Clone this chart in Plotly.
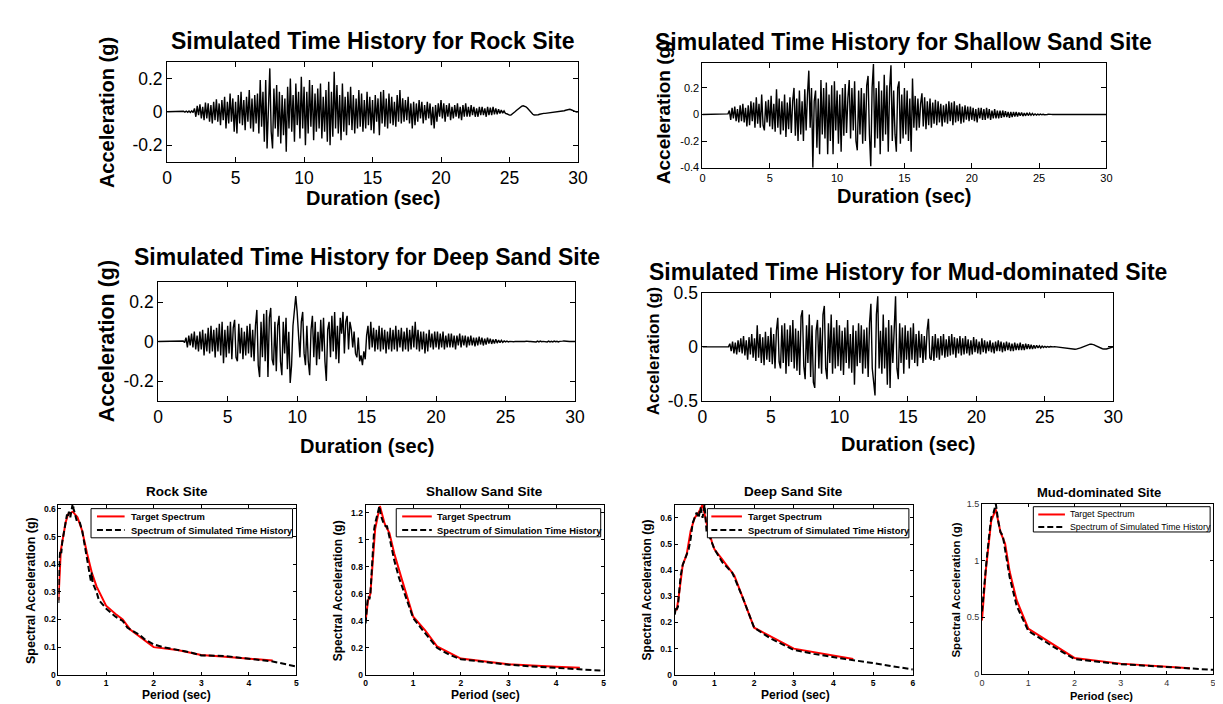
import plotly.graph_objects as go

W, H = 1223, 704
FONT = "Arial, Liberation Sans, Helvetica, sans-serif"
DT = 0.1  # sampling step of the digitised time histories (sec)

# ---------------- time histories (g), sampled every 0.1 s from 0 to 30 s ----------------
rock_acc = [
    0, 0, 0, 0, 0, 0, 0, 0, 0, 0, 0, 0,
    0.003, -0.002, 0.004, -0.003, 0.005, -0.004, 0.006, -0.005,
    0.02, -0.03, 0.035, -0.02, 0.045, -0.04, 0.03, -0.05, 0.055, -0.04,
    0.05, -0.06, 0.04, -0.07, 0.06, -0.05, 0.075, -0.06, 0.05, -0.08,
    0.07, -0.05, 0.09, -0.1, 0.06, -0.07, 0.11, -0.06, 0.08, -0.12,
    0.06, -0.13, 0.1, -0.07, 0.12, -0.08, 0.07, -0.11, 0.09, -0.06,
    0.13, -0.1, 0.08, -0.12, 0.1, -0.07, 0.11, -0.13, 0.19, -0.09,
    0.12, -0.18, 0.19, -0.22, 0.1, 0.26, -0.12, -0.22, 0.14, -0.1,
    0.16, -0.15, 0.12, -0.19, 0.1, -0.14, 0.08, -0.24, 0.15, -0.1,
    0.2, -0.12, 0.1, -0.18, 0.17, -0.08, 0.12, -0.16, 0.21, -0.1,
    0.15, -0.2, 0.12, -0.13, 0.19, -0.09, 0.16, -0.17, 0.11, -0.12,
    0.14, -0.1, 0.17, -0.16, 0.09, -0.12, 0.13, -0.18, 0.18, -0.2,
    0.12, -0.15, 0.24, -0.1, 0.16, -0.13, 0.1, -0.17, 0.17, -0.12,
    0.09, -0.14, 0.12, -0.08, 0.15, -0.11, 0.1, -0.13, 0.08, -0.1,
    0.13, -0.09, 0.11, -0.12, 0.07, -0.1, 0.12, -0.08, 0.09, -0.11,
    0.07, -0.13, 0.1, -0.06, 0.08, -0.14, 0.12, -0.07, 0.13, -0.09,
    0.08, -0.1, 0.11, -0.07, 0.09, -0.08, 0.06, -0.09, 0.1, -0.06,
    0.13, -0.07, 0.08, -0.06, 0.07, -0.05, 0.09, -0.07, 0.05, -0.1,
    0.06, -0.08, 0.05, -0.06, 0.07, -0.04, 0.06, -0.07, 0.04, -0.05,
    0.06, -0.04, 0.05, -0.08, 0.03, -0.1, 0.04, -0.06, 0.05, -0.03,
    0.07, -0.04, 0.05, -0.06, 0.04, -0.03, 0.05, -0.05, 0.03, -0.04,
    0.04, -0.03, 0.05, -0.04, 0.03, -0.05, 0.04, -0.03, 0.05, -0.03,
    0.03, -0.03, 0.04, -0.02, 0.03, -0.03, 0.02, -0.03, 0.03, -0.02,
    0.03, -0.02, 0.02, -0.03, 0.03, -0.02, 0.025, -0.02, 0.03, -0.015,
    0.02, -0.015, 0.015, -0.01, 0.01, -0.008, 0.005, -0.01, -0.012, -0.018,
    -0.02, -0.02, -0.015, -0.008, 0.0, 0.008, 0.016, 0.024, 0.03, 0.034,
    0.036, 0.035, 0.03, 0.022, 0.012, 0.002, -0.008, -0.015, -0.019, -0.02,
    -0.02, -0.018, -0.015, -0.012, -0.011, -0.01, -0.01, -0.009, -0.008, -0.008,
    -0.007, -0.006, -0.006, -0.005, -0.004, -0.002, -0.002, 0.0, 0.002, 0.004,
    0.006, 0.009, 0.012, 0.015, 0.015, 0.012, 0.008, 0.003, 0.0, -0.002,
    0.0]

shallow_acc = [
    0, 0, 0, 0, 0, 0, 0, 0, 0, 0, 0, 0, 0, 0, 0, 0, 0, 0, 0,
    0.005,
    0.03, -0.04, 0.05, -0.03, 0.06, -0.05, 0.04, -0.06, 0.07, -0.05,
    0.08, -0.06, 0.05, -0.09, 0.07, -0.08, 0.1, -0.05, 0.09, -0.1,
    0.13, -0.07, 0.08, -0.1, 0.15, -0.08, -0.12, 0.1, -0.06, 0.11,
    -0.09, 0.14, -0.11, 0.08, -0.13, 0.19, -0.1, 0.12, -0.15, 0.1,
    -0.12, 0.15, -0.17, 0.09, -0.11, 0.13, -0.14, 0.1, 0.2, -0.16,
    0.12, -0.2, 0.18, -0.15, 0.1, -0.2, 0.19, -0.12, 0.15, 0.33,
    -0.1, 0.2, -0.4, 0.1, 0.18, -0.25, 0.12, -0.3, 0.26, -0.15,
    0.2, -0.18, 0.24, -0.3, 0.15, -0.2, 0.22, -0.3, 0.25, -0.12,
    0.18, -0.22, 0.15, -0.28, 0.2, -0.16, 0.23, -0.14, 0.12, 0.26,
    -0.18, 0.2, -0.12, 0.25, -0.2, -0.27, 0.18, -0.15, 0.2, -0.22,
    0.16, -0.2, 0.22, 0.29, -0.15, -0.39, 0.2, 0.38, -0.25, 0.2,
    -0.18, 0.25, -0.3, 0.18, -0.2, 0.3, -0.15, 0.22, -0.28, 0.2,
    0.37, -0.2, 0.18, -0.15, -0.28, 0.2, 0.25, -0.22, 0.15, -0.18,
    0.2, -0.15, 0.18, -0.2, 0.12, -0.28, 0.27, -0.1, 0.14, -0.12,
    0.12, -0.1, 0.08, 0.16, -0.09, 0.13, -0.11, 0.1, -0.08, 0.12,
    -0.1, 0.09, -0.07, 0.11, -0.08, 0.1, -0.06, 0.08, -0.09, 0.07,
    -0.06, 0.08, -0.07, 0.1, -0.05, 0.09, -0.08, 0.1, -0.06, 0.07,
    -0.05, 0.08, -0.07, 0.06, -0.06, 0.07, -0.04, 0.06, -0.05, 0.06,
    -0.04, 0.05, -0.05, 0.04, -0.06, 0.05, -0.03, 0.05, -0.04, 0.04,
    -0.04, 0.05, -0.03, 0.04, -0.04, 0.03, -0.03, 0.04, -0.03, 0.03,
    -0.03, 0.03, -0.025, 0.03, -0.02, 0.025, -0.02, 0.02, -0.025, 0.02,
    -0.02, 0.02, -0.015, 0.02, -0.015, 0.015, -0.01, 0.015, -0.012, 0.01,
    -0.01, 0.012, -0.008, 0.01, -0.006, 0.008, -0.005, 0.005, -0.004, 0.003,
    -0.003, 0.003, -0.002, 0.002, -0.002, 0.002, 0, 0.002, -0.001, 0.001,
    0, 0.002, -0.001, 0.001, 0, 0, 0.001, -0.001, 0, 0,
    0, 0.001, -0.002, 0.001, 0, 0, 0, 0, 0, 0,
    0, 0, 0, 0, 0, 0, 0, 0, 0, 0,
    0, 0, 0, 0, 0, 0, 0, 0, 0, 0,
    0]

deep_acc = [
    0, 0, 0, 0, 0, 0, 0, 0, 0, 0, 0, 0, 0, 0, 0, 0, 0, 0,
    0.003, -0.005,
    0.02, -0.03, 0.03, -0.02, 0.04, -0.03, 0.05, -0.04, 0.03, -0.05,
    0.05, -0.04, 0.06, -0.07, 0.04, -0.05, 0.07, -0.06, 0.08, -0.05,
    0.06, -0.08, 0.07, -0.05, 0.09, -0.07, 0.1, -0.11, 0.06, -0.08,
    0.08, -0.06, 0.1, -0.09, 0.07, 0.11, -0.08, -0.1, 0.09, -0.06,
    0.07, -0.09, 0.05, -0.07, 0.08, -0.06, 0.09, -0.08, 0.06, -0.1,
    0.08, 0.16, -0.12, -0.18, 0.1, -0.08, 0.14, -0.1, 0.16, -0.18,
    0.12, 0.17, -0.09, -0.12, 0.1, -0.15, 0.08, 0.13, -0.1, -0.17,
    0.1, -0.06, 0.12, -0.14, 0.05, -0.21, -0.12, 0.08, 0.18, 0.23,
    0.15, 0.05, -0.08, 0.1, 0.15, -0.06, -0.12, 0.08, -0.1, -0.17,
    0.06, 0.13, -0.08, 0.1, -0.12, 0.05, -0.09, 0.11, -0.05, 0.12,
    -0.1, -0.2, 0.06, 0.1, -0.08, 0.13, -0.05, 0.15, -0.09, 0.08,
    -0.11, 0.12, 0.04, 0.15, -0.06, 0.1, 0.13, -0.04, 0.1, 0.06,
    -0.03, 0.05, -0.06, -0.08, 0.02, -0.1, -0.07, -0.12, -0.05, -0.09,
    0.03, 0.08, -0.04, 0.1, -0.03, 0.07, -0.05, 0.06, -0.04, 0.08,
    -0.05, 0.07, -0.04, 0.06, -0.06, 0.05, -0.04, 0.07, -0.05, 0.06,
    -0.04, 0.08, -0.05, 0.06, -0.03, 0.07, -0.05, 0.05, -0.04, 0.07,
    -0.05, 0.06, -0.04, 0.08, -0.03, 0.1, -0.04, 0.06, -0.05, 0.05,
    -0.04, 0.05, -0.06, 0.04, -0.05, 0.06, -0.03, 0.04, -0.04, 0.05,
    -0.03, 0.05, -0.04, 0.04, -0.03, 0.05, -0.04, 0.03, -0.03, 0.04,
    -0.03, 0.04, -0.03, 0.03, -0.04, 0.03, -0.02, 0.04, -0.03, 0.03,
    -0.02, 0.03, -0.03, 0.025, -0.02, 0.03, -0.02, 0.02, -0.025, 0.02,
    -0.02, 0.025, -0.015, 0.02, -0.02, 0.015, -0.015, 0.02, -0.01, 0.015,
    -0.012, 0.01, -0.01, 0.012, -0.008, 0.008, -0.006, 0.006, -0.004, 0.003,
    -0.002, 0.002, -0.002, 0.001, 0, 0.002, -0.001, 0.001, 0, 0,
    0, 0.001, 0, -0.001, 0, 0.002, -0.001, 0, 0, 0,
    0.001, 0, -0.002, 0.002, -0.002, 0.002, -0.001, 0.001, 0, 0,
    -0.002, 0.002, -0.002, 0.001, -0.002, 0.002, -0.001, 0.001, -0.002, 0.001,
    0, 0.002, 0.003, 0.002, 0, 0.001, 0, 0.001, 0, 0,
    0]

mud_acc = [
    0, 0, 0, 0, 0, 0, 0, 0, 0, 0, 0, 0, 0, 0, 0, 0, 0, 0, 0, 0,
    0.03, -0.04, 0.05, -0.06, 0.04, -0.07, 0.06, -0.05, 0.08, -0.06,
    0.1, -0.08, 0.06, -0.12, 0.09, -0.07, 0.12, -0.1, 0.08, -0.13,
    0.2, -0.1, 0.12, -0.15, 0.09, -0.17, 0.14, -0.12, 0.1, -0.14,
    0.18, -0.16, 0.12, -0.2, 0.15, 0.27, -0.14, -0.2, 0.2, -0.15,
    0.22, -0.25, 0.16, -0.18, 0.2, -0.14, 0.25, -0.2, 0.17, -0.22,
    0.15, -0.26, 0.28, 0.34, -0.18, -0.3, 0.2, -0.15, 0.3, -0.28,
    0.2, -0.33, -0.38, 0.15, 0.25, -0.2, 0.18, -0.25, 0.3, 0.38,
    -0.2, -0.3, 0.22, -0.15, 0.3, -0.25, 0.18, -0.2, 0.25, -0.18,
    0.2, -0.22, 0.15, -0.26, 0.18, -0.15, 0.25, -0.2, 0.12, -0.24,
    0.2, -0.35, 0.15, -0.18, 0.22, -0.15, 0.2, -0.25, 0.16, -0.2,
    0.18, -0.28, 0.22, 0.4, -0.2, -0.3, -0.45, 0.3, 0.47, -0.2,
    0.15, -0.25, 0.3, -0.2, 0.18, -0.35, 0.25, -0.38, 0.2, -0.15,
    0.2, 0.47, -0.2, -0.3, 0.22, -0.15, 0.18, -0.25, 0.2, -0.12,
    0.15, -0.2, 0.18, -0.12, 0.22, -0.15, 0.12, -0.18, 0.15, -0.1,
    0.12, -0.15, 0.1, -0.12, 0.15, 0.26, -0.1, -0.12, 0.1, -0.13,
    0.12, -0.1, 0.08, -0.12, 0.1, -0.08, 0.12, -0.1, 0.07, -0.09,
    0.1, -0.08, 0.12, -0.07, 0.09, -0.1, 0.08, -0.06, 0.1, -0.08,
    0.08, -0.07, 0.1, -0.06, 0.07, -0.08, 0.06, -0.07, 0.09, -0.05,
    0.07, -0.06, 0.05, -0.07, 0.08, -0.05, 0.06, -0.06, 0.05, -0.04,
    0.06, -0.05, 0.04, -0.06, 0.05, -0.04, 0.06, -0.04, 0.05, -0.05,
    0.04, -0.04, 0.05, -0.03, 0.04, -0.04, 0.03, -0.04, 0.04, -0.03,
    0.03, -0.03, 0.04, -0.03, 0.025, -0.03, 0.03, -0.02, 0.025, -0.02,
    0.02, -0.02, 0.015, -0.015, 0.015, -0.01, 0.01, -0.01, 0.008, -0.006,
    0.005, -0.004, 0.004, -0.003, 0.003, 0, 0, 0.002, 0, 0,
    0, -0.002, -0.004, -0.006, -0.009, -0.012, -0.015, -0.017, -0.019, -0.02,
    -0.021, -0.022, -0.022, -0.021, -0.019, -0.015, -0.01, -0.004, 0.002, 0.008,
    0.014, 0.019, 0.023, 0.025, 0.025, 0.023, 0.018, 0.012, 0.005, -0.002,
    -0.008, -0.013, -0.017, -0.019, -0.02, -0.019, -0.015, -0.01, -0.005, -0.002,
    0.0]

# ---------------- response spectra (period sec, Sa g) ----------------
rock_tgt_T = [0, 0.03, 0.05, 0.1, 0.15, 0.2, 0.3, 0.4, 0.5, 0.6, 0.7, 0.8, 1.0, 1.2, 1.35, 1.5, 1.7, 2.0, 2.5, 3.0, 3.5, 4.0, 4.5]
rock_tgt_Sa = [0.27, 0.4, 0.45, 0.5, 0.55, 0.58, 0.59, 0.57, 0.52, 0.44, 0.37, 0.32, 0.25, 0.22, 0.2, 0.165, 0.14, 0.1, 0.09, 0.072, 0.065, 0.058, 0.052]
rock_sim_T = [0, 0.02, 0.04, 0.06, 0.08, 0.1, 0.12, 0.15, 0.18, 0.2, 0.22, 0.25, 0.28, 0.3, 0.32, 0.35, 0.38, 0.42, 0.45, 0.5, 0.55, 0.6, 0.65, 0.68, 0.7, 0.72, 0.75, 0.8, 0.85, 0.9, 1.0, 1.1, 1.2, 1.35, 1.45, 1.5, 1.6, 1.7, 1.8, 1.9, 2.0, 2.2, 2.5, 2.8, 3.0, 3.5, 4.0, 4.5, 5.0]
rock_sim_Sa = [0.26, 0.42, 0.45, 0.44, 0.48, 0.5, 0.52, 0.55, 0.58, 0.57, 0.59, 0.57, 0.6, 0.62, 0.6, 0.58, 0.56, 0.56, 0.55, 0.52, 0.47, 0.42, 0.38, 0.34, 0.37, 0.33, 0.32, 0.3, 0.27, 0.26, 0.24, 0.225, 0.21, 0.195, 0.17, 0.165, 0.155, 0.145, 0.13, 0.12, 0.11, 0.1, 0.09, 0.08, 0.07, 0.068, 0.058, 0.048, 0.03]

shallow_tgt_T = [0, 0.05, 0.1, 0.15, 0.2, 0.3, 0.4, 0.5, 0.6, 0.75, 1.0, 1.25, 1.5, 2.0, 3.0, 4.0, 4.5]
shallow_tgt_Sa = [0.4, 0.55, 0.6, 0.85, 1.08, 1.25, 1.12, 1.05, 0.9, 0.72, 0.43, 0.33, 0.21, 0.12, 0.078, 0.06, 0.052]
shallow_sim_T = [0, 0.02, 0.04, 0.06, 0.08, 0.1, 0.12, 0.15, 0.18, 0.2, 0.22, 0.25, 0.27, 0.29, 0.32, 0.35, 0.38, 0.42, 0.45, 0.5, 0.6, 0.7, 0.8, 0.9, 1.0, 1.2, 1.5, 1.75, 2.0, 2.5, 3.0, 3.5, 4.0, 4.5, 5.0]
shallow_sim_Sa = [0.38, 0.5, 0.55, 0.58, 0.56, 0.6, 0.72, 0.95, 1.08, 1.12, 1.15, 1.2, 1.23, 1.25, 1.18, 1.15, 1.12, 1.1, 1.1, 1.02, 0.85, 0.72, 0.62, 0.52, 0.42, 0.33, 0.2, 0.15, 0.115, 0.095, 0.075, 0.062, 0.052, 0.045, 0.03]

deep_tgt_T = [0, 0.05, 0.1, 0.2, 0.3, 0.4, 0.5, 0.6, 0.7, 0.8, 0.95, 1.0, 1.2, 1.4, 1.5, 2.0, 3.0, 4.5]
deep_tgt_Sa = [0.25, 0.25, 0.3, 0.42, 0.46, 0.55, 0.6, 0.62, 0.65, 0.58, 0.5, 0.48, 0.44, 0.4, 0.38, 0.18, 0.1, 0.06]
deep_sim_T = [0, 0.03, 0.05, 0.08, 0.1, 0.15, 0.2, 0.25, 0.3, 0.35, 0.4, 0.45, 0.5, 0.55, 0.6, 0.65, 0.7, 0.75, 0.8, 0.9, 1.0, 1.2, 1.45, 1.7, 2.0, 2.4, 3.0, 3.5, 4.3, 5.0, 6.0]
deep_sim_Sa = [0.23, 0.26, 0.25, 0.26, 0.3, 0.38, 0.42, 0.44, 0.46, 0.48, 0.52, 0.58, 0.6, 0.62, 0.6, 0.64, 0.6, 0.65, 0.55, 0.52, 0.48, 0.43, 0.39, 0.3, 0.18, 0.14, 0.095, 0.08, 0.06, 0.045, 0.02]

mud_tgt_T = [0, 0.08, 0.2, 0.3, 0.4, 0.5, 0.6, 0.75, 1.0, 1.5, 2.0, 3.0, 4.5]
mud_tgt_Sa = [0.47, 0.9, 1.35, 1.45, 1.25, 1.15, 0.9, 0.65, 0.4, 0.27, 0.14, 0.09, 0.05]
mud_sim_T = [0, 0.05, 0.1, 0.15, 0.2, 0.25, 0.3, 0.35, 0.4, 0.45, 0.5, 0.6, 0.75, 1.0, 1.5, 2.0, 3.0, 4.0, 5.0]
mud_sim_Sa = [0.55, 0.8, 1.0, 1.2, 1.38, 1.42, 1.5, 1.35, 1.25, 1.22, 1.1, 0.85, 0.6, 0.38, 0.25, 0.13, 0.085, 0.06, 0.035]

# ---------------- labels and ticks ----------------
th_titles = ["Simulated Time History for Rock Site", "Simulated Time History for Shallow Sand Site",
             "Simulated Time History for Deep Sand Site", "Simulated Time History for Mud-dominated Site"]
sp_titles = ["Rock Site", "Shallow Sand Site", "Deep Sand Site", "Mud-dominated Site"]
sim_names = ["Spectrum of Simulated Time History", "Spectrum of Simulation Time History",
             "Spectrum of Simulated Time History", "Spectrum of Simulated Time History"]
target_name = "Target Spectrum"

th_xticks = [0, 5, 10, 15, 20, 25, 30]
th_xtext = ["0", "5", "10", "15", "20", "25", "30"]
th_yticks = [[-0.2, 0, 0.2], [-0.4, -0.2, 0, 0.2], [-0.2, 0, 0.2], [-0.5, 0, 0.5]]
th_ytext = [["-0.2", "0", "0.2"], ["-0.4", "-0.2", "0", "0.2"], ["-0.2", "0", "0.2"], ["-0.5", "0", "0.5"]]
th_yrange = [[-0.3, 0.3], [-0.4, 0.39], [-0.3, 0.3], [-0.5, 0.5]]

sp_xticks = [[0, 1, 2, 3, 4, 5], [0, 1, 2, 3, 4, 5], [0, 1, 2, 3, 4, 5, 6], [0, 1, 2, 3, 4, 5]]
sp_xrange = [[0, 5], [0, 5], [0, 6], [0, 5]]
sp_yticks = [[0, 0.1, 0.2, 0.3, 0.4, 0.5, 0.6], [0, 0.2, 0.4, 0.6, 0.8, 1, 1.2],
             [0, 0.1, 0.2, 0.3, 0.4, 0.5, 0.6], [0, 0.5, 1, 1.5]]
sp_ytext = [["0", "0.1", "0.2", "0.3", "0.4", "0.5", "0.6"], ["0", "0.2", "0.4", "0.6", "0.8", "1", "1.2"],
            ["0", "0.1", "0.2", "0.3", "0.4", "0.5", "0.6"], ["0", "0.5", "1", "1.5"]]
sp_yrange = [[0, 0.615], [0, 1.26], [0, 0.65], [0, 1.5]]

# ---------------- layout geometry (pixels) ----------------
# (left, right, top, bottom)
th_box = [(156, 572, 45, 148), (698, 1107, 46, 154), (147, 569, 272, 394), (698, 1114, 283, 394)]
sp_box = [(46, 287, 501, 676), (357, 598, 501, 676), (670, 911, 501, 676), (981, 1215, 500, 675)]

fig = go.Figure()


def ax_name(i):
    return ("x" if i == 1 else f"x{i}"), ("y" if i == 1 else f"y{i}")


def set_axes(i, box, xr, yr, xtv, xtt, ytv, ytt, tfont, tlen):
    l, r, t, b = box
    common = dict(ticks="inside", ticklen=tlen, tickcolor="black", tickwidth=1, mirror="ticks",
                  showline=True, linecolor="black", linewidth=1, showgrid=False, zeroline=False,
                  tickfont=tfont, fixedrange=True)
    xn, yn = ax_name(i)
    fig.layout["xaxis" if i == 1 else f"xaxis{i}"] = dict(
        domain=[l / W, r / W], range=xr, anchor=yn, tickvals=xtv, ticktext=xtt, **common)
    fig.layout["yaxis" if i == 1 else f"yaxis{i}"] = dict(
        domain=[1 - b / H, 1 - t / H], range=yr, anchor=xn, tickvals=ytv, ticktext=ytt, **common)


th_data = [rock_acc, shallow_acc, deep_acc, mud_acc]
for k in range(4):
    i = k + 1
    acc = th_data[k]
    t = [round(n * DT, 2) for n in range(len(acc))]
    xn, yn = ax_name(i)
    fig.add_trace(go.Scatter(x=t, y=acc, mode="lines", line=dict(color="black", width=1.4),
                             xaxis=xn, yaxis=yn, showlegend=False, hoverinfo="skip"))
    tsize = 11 if k == 1 else 17.5
    set_axes(i, th_box[k], [0, 30], th_yrange[k], th_xticks, th_xtext, th_yticks[k], th_ytext[k],
             dict(family=FONT, size=tsize, color="black"), 5)

sp_data = [(rock_tgt_T, rock_tgt_Sa, rock_sim_T, rock_sim_Sa),
           (shallow_tgt_T, shallow_tgt_Sa, shallow_sim_T, shallow_sim_Sa),
           (deep_tgt_T, deep_tgt_Sa, deep_sim_T, deep_sim_Sa),
           (mud_tgt_T, mud_tgt_Sa, mud_sim_T, mud_sim_Sa)]
RED_LINE = dict(color="#ff0000", width=2)
BLK_LINE = dict(color="black", width=2, dash="6px,3px")
for k in range(4):
    i = k + 5
    xn, yn = ax_name(i)
    tT, tS, sT, sS = sp_data[k]
    fig.add_trace(go.Scatter(x=tT, y=tS, mode="lines", name=target_name, line=RED_LINE,
                             xaxis=xn, yaxis=yn, showlegend=False, hoverinfo="skip"))
    fig.add_trace(go.Scatter(x=sT, y=sS, mode="lines", name=sim_names[k], line=BLK_LINE,
                             xaxis=xn, yaxis=yn, showlegend=False, hoverinfo="skip"))
    mud = (k == 3)
    tf = dict(family=FONT, size=8.5 if not mud else 9, color="black" if not mud else "#333333",
              weight="normal" if mud else "bold")
    set_axes(i, sp_box[k], sp_xrange[k], sp_yrange[k], sp_xticks[k], [str(v) for v in sp_xticks[k]],
             sp_yticks[k], sp_ytext[k], tf, 3)


def txt(s, x, y, size, bold=True, angle=0, color="black", anchor="center"):
    fig.add_annotation(text=s, x=x / W, y=1 - y / H, xref="paper", yref="paper", showarrow=False,
                       textangle=angle, xanchor=anchor, yanchor="middle",
                       font=dict(family=FONT, size=size, color=color, weight="bold" if bold else "normal"))


# legends of the spectrum panels (boxed, MATLAB style)
# box left, right, top, bottom, sample x0, x1, text x, row1 y, row2 y
legend_geom = [(79, 283, 505, 535, 85, 113, 117, 513, 527),
               (388, 595, 505, 534, 394, 424, 427, 513, 527),
               (703, 907, 505, 535, 707, 738, 742, 513, 527),
               (1033, 1212, 503, 529, 1038, 1065, 1068, 511, 524)]
for k in range(4):
    bl, br, bt, bb, sx0, sx1, tx, r1, r2 = legend_geom[k]
    mud = (k == 3)
    fig.add_shape(type="rect", xref="paper", yref="paper", x0=bl / W, x1=br / W, y0=1 - bb / H, y1=1 - bt / H,
                  line=dict(color="black", width=1), fillcolor="white", layer="above")
    fig.add_shape(type="line", xref="paper", yref="paper", x0=sx0 / W, x1=sx1 / W, y0=1 - r1 / H, y1=1 - r1 / H,
                  line=RED_LINE, layer="above")
    fig.add_shape(type="line", xref="paper", yref="paper", x0=sx0 / W, x1=sx1 / W, y0=1 - r2 / H, y1=1 - r2 / H,
                  line=BLK_LINE, layer="above")
    lsize = 8.8 if mud else 9.4
    txt(target_name, tx, r1, lsize, bold=not mud, anchor="left")
    txt(sim_names[k], tx, r2, lsize, bold=not mud, anchor="left")

# time-history panel texts
th_title_pos = [(364, 24), (902, 25), (358, 246), (906, 261)]
th_xlab_pos = [(364, 185), (902, 183), (358, 440), (906, 438)]
th_ylab_pos = [(95, 97), (658, 97), (95, 333), (648, 343)]
th_ylab_size = [20, 19, 21.5, 17]
for k in range(4):
    txt(th_titles[k], *th_title_pos[k], 23)
    txt("Duration (sec)", *th_xlab_pos[k], 20)
    txt("Acceleration (g)", *th_ylab_pos[k], th_ylab_size[k], angle=-90)

# spectrum panel texts
sp_title_pos = [(166, 487), (477, 487), (790, 487), (1099, 488)]
sp_title_size = [13.5, 13.5, 13.5, 13]
sp_xlab_pos = [(166, 697), (478, 697), (792, 697), (1102, 698)]
sp_xlab_size = [12, 12, 12, 11]
sp_ylab_pos = [(18, 589), (329, 589), (642, 589), (955, 589)]
sp_ylab_size = [12.5, 12, 12, 11.5]
for k in range(4):
    txt(sp_titles[k], *sp_title_pos[k], sp_title_size[k])
    txt("Period (sec)", *sp_xlab_pos[k], sp_xlab_size[k])
    txt("Spectral Acceleration (g)", *sp_ylab_pos[k], sp_ylab_size[k], angle=-90)

fig.update_layout(width=W, height=H, autosize=False, margin=dict(l=0, r=0, t=0, b=0),
                  paper_bgcolor="white", plot_bgcolor="white", font=dict(family=FONT, color="black"),
                  showlegend=False)

fig.write_html("out.html")
